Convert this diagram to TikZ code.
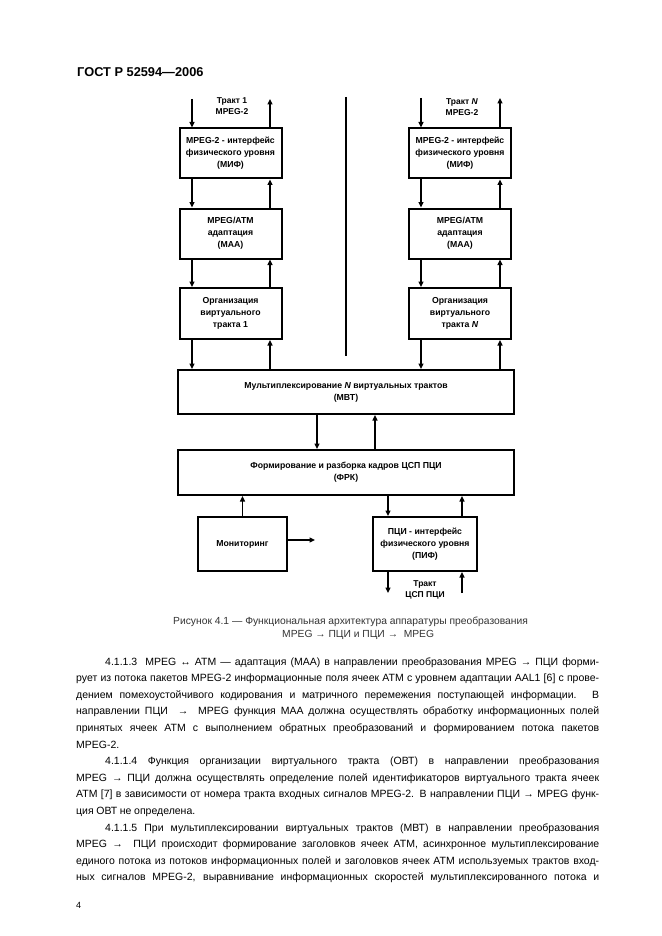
\documentclass[tikz,border=0pt]{standalone}
\usepackage{fontspec}
\setmainfont{Liberation Sans}
\usetikzlibrary{arrows.meta,calc}
\newcommand\jl[2]{\makebox[#1][s]{#2}}
\newcommand\bodyfont{\fontsize{10.5}{12}\selectfont\spaceskip=0.25em plus 1em minus 0.12em\relax}
\begin{document}
\begin{tikzpicture}[x=1pt,y=-1pt,
  blk/.style={draw,line width=2pt,inner sep=0pt,align=center,
    font=\fontsize{8.7}{12}\selectfont\bfseries},
  colbox/.style={blk,minimum width=102pt,minimum height=50pt},
  widebox/.style={blk,minimum width=336pt},
  link/.style={line width=1.4pt,-{Triangle[length=5.5pt,width=5pt]}},
  plain/.style={line width=1.4pt},
  lbl/.style={align=center,inner sep=0pt,font=\fontsize{8.5}{11}\selectfont\bfseries},
  body/.style={inner sep=0pt,anchor=base west,font=\bodyfont},
  captext/.style={inner sep=0pt,anchor=base west,text=black!80,
    font=\fontsize{10.3}{12}\selectfont}]
\useasboundingbox (0,0) rectangle (661,936);

% header
\node[inner sep=0pt,anchor=base west,font=\fontsize{12.8}{14}\selectfont\bfseries] (hdr) at (77,77) {ГОСТ Р 52594—2006};

% left column
\node[colbox] (mif1) at (230.5,153.5) {MPEG-2 - интерфейс\\физического уровня\\(МИФ)};
\node[colbox] (maa1) at (230.5,233.5) {MPEG/ATM\\адаптация\\(МАА)};
\node[colbox,minimum height=51pt] (ovt1) at (230.5,313.5) {Организация\\виртуального\\тракта 1};
% right column
\node[colbox] (mifN) at (460,153.5) {MPEG-2 - интерфейс\\физического уровня\\(МИФ)};
\node[colbox] (maaN) at (460,233.5) {MPEG/ATM\\адаптация\\(МАА)};
\node[colbox,minimum height=51pt] (ovtN) at (460,313.5) {Организация\\виртуального\\тракта \textit{N}};
% wide boxes
\node[widebox,minimum height=44pt] (mvt) at (346,392) {Мультиплексирование \textit{N} виртуальных трактов\\(МВТ)};
\node[widebox,minimum height=45pt] (frk) at (346,472.5) {Формирование и разборка кадров ЦСП ПЦИ\\(ФРК)};
% bottom boxes
\node[blk,minimum width=89pt,minimum height=54pt] (mon) at (242.5,544) {Мониторинг};
\node[blk,minimum width=104pt,minimum height=54pt] (pif) at (425,544) {ПЦИ - интерфейс\\физического уровня\\(ПИФ)};

% labels
\node[lbl] (l1) at (232,106) {Тракт 1\\MPEG-2};
\node[lbl] (lN) at (462,107) {Тракт \textit{N}\\MPEG-2};
\node[lbl] (lP) at (425,590) {Тракт\\ЦСП ПЦИ};

% column x coordinates
\coordinate (a1) at (192,99);
\coordinate (b1) at (270,99);
\coordinate (aN) at (421,98);
\coordinate (bN) at (500,98);
\coordinate (cm) at (317,0);
\coordinate (dm) at (375,0);
\coordinate (pdn) at (388,593);
\coordinate (pup) at (462,593);
\coordinate (monout) at (315,540);
\coordinate (mtop) at (346,97);
\coordinate (mbot) at (346,356);

% left column links
\draw[link] (a1) -- (a1 |- mif1.north);
\draw[link] (b1 |- mif1.north) -- (b1);
\draw[link] (a1 |- mif1.south) -- (a1 |- maa1.north);
\draw[link] (b1 |- maa1.north) -- (b1 |- mif1.south);
\draw[link] (a1 |- maa1.south) -- (a1 |- ovt1.north);
\draw[link] (b1 |- ovt1.north) -- (b1 |- maa1.south);
\draw[link] (a1 |- ovt1.south) -- (a1 |- mvt.north);
\draw[link] (b1 |- mvt.north) -- (b1 |- ovt1.south);
% right column links
\draw[link] (aN) -- (aN |- mifN.north);
\draw[link] (bN |- mifN.north) -- (bN);
\draw[link] (aN |- mifN.south) -- (aN |- maaN.north);
\draw[link] (bN |- maaN.north) -- (bN |- mifN.south);
\draw[link] (aN |- maaN.south) -- (aN |- ovtN.north);
\draw[link] (bN |- ovtN.north) -- (bN |- maaN.south);
\draw[link] (aN |- ovtN.south) -- (aN |- mvt.north);
\draw[link] (bN |- mvt.north) -- (bN |- ovtN.south);
% middle divider
\draw[plain] (mtop) -- (mbot);
% mvt - frk
\draw[link] (cm |- mvt.south) -- (cm |- frk.north);
\draw[link] (dm |- frk.north) -- (dm |- mvt.south);
% frk - pif
\draw[link] (pdn |- frk.south) -- (pdn |- pif.north);
\draw[link] (pup |- pif.north) -- (pup |- frk.south);
\draw[link] (pdn |- pif.south) -- (pdn);
\draw[link] (pup) -- (pup |- pif.south);
% monitoring
\draw[link] (mon.north) -- (mon.north |- frk.south);
\draw[link] (mon.east |- monout) -- (monout);

% caption
\node[captext] (c1) at (173,624) {Рисунок 4.1 — Функциональная архитектура аппаратуры преобразования};
\node[captext] (c2) at (282,637) {MPEG → ПЦИ и ПЦИ → \ MPEG};

% body text
\node[body] (t1) at (105,665) {\jl{494pt}{4.1.1.3\ \ MPEG ↔ ATM — адаптация (МАА) в направлении преобразования MPEG → ПЦИ форми-}};
\node[body] (t2) at (76,681.6) {\jl{523pt}{рует из потока пакетов MPEG-2 информационные поля ячеек ATM с уровнем адаптации AAL1 [6] с прове-}};
\node[body] (t3) at (76,698.2) {\jl{523pt}{дением помехоустойчивого кодирования и матричного перемежения поступающей информации. В}};
\node[body] (t4) at (76,714.8) {\jl{523pt}{направлении ПЦИ \ → \ MPEG функция МАА должна осуществлять обработку информационных полей}};
\node[body] (t5) at (76,731.4) {\jl{523pt}{принятых ячеек ATM с выполнением обратных преобразований и формированием потока пакетов}};
\node[body] (t6) at (76,748) {MPEG-2.};
\node[body] (t7) at (105,764.6) {\jl{494pt}{4.1.1.4 Функция организации виртуального тракта (ОВТ) в направлении преобразования}};
\node[body] (t8) at (76,781.2) {\jl{523pt}{MPEG → ПЦИ должна осуществлять определение полей идентификаторов виртуального тракта ячеек}};
\node[body] (t9) at (76,797.8) {\jl{523pt}{ATM [7] в зависимости от номера тракта входных сигналов MPEG-2. В направлении ПЦИ → MPEG функ-}};
\node[body] (t10) at (76,814.4) {ция ОВТ не определена.};
\node[body] (t11) at (105,831) {\jl{494pt}{4.1.1.5 При мультиплексировании виртуальных трактов (МВТ) в направлении преобразования}};
\node[body] (t12) at (76,847.6) {\jl{523pt}{MPEG → \ ПЦИ происходит формирование заголовков ячеек ATM, асинхронное мультиплексирование}};
\node[body] (t13) at (76,864.2) {\jl{523pt}{единого потока из потоков информационных полей и заголовков ячеек ATM используемых трактов вход-}};
\node[body] (t14) at (76,880.8) {\jl{523pt}{ных сигналов MPEG-2, выравнивание информационных скоростей мультиплексированного потока и}};
\node[body,font=\fontsize{9}{10}\selectfont] (pg) at (76,908) {4};
\end{tikzpicture}
\end{document}
